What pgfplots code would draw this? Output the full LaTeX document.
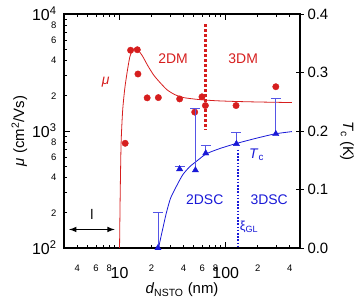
\documentclass[border=0pt]{standalone}
\usepackage{fontspec}
\setmainfont{Liberation Sans}
\usepackage{pgfplots}
\pgfplotsset{compat=1.18}
\definecolor{mred}{RGB}{214,30,30}
\definecolor{mblue}{RGB}{25,25,215}
\definecolor{ebblue}{RGB}{85,85,230}
\newcommand{\fs}[1]{\fontsize{#1}{#1}\selectfont}
\begin{document}
\begin{tikzpicture}
\useasboundingbox (-64bp,-55bp) rectangle (294bp,248bp);
\begin{axis}[
 at={(0,0)}, anchor=south west,
 scale only axis, width=236bp, height=234bp,
 xmode=log, ymode=log,
 xmin=3, xmax=500, ymin=100, ymax=10000,
 axis line style={line width=1.1pt},
 tick style={line width=0.9pt, black},
 tick align=inside,
 major tick length=6bp, minor tick length=3.5bp,
 xtick pos=both, ytick pos=left,
 xtick={10,100}, xticklabels={10,100},
 xticklabel style={font=\fs{16}, inner sep=0.5bp, yshift=-18.3bp},
 ytick={100,1000,10000},
 yticklabels={10\textsuperscript{2},10\textsuperscript{3},10\textsuperscript{4}},
 yticklabel style={font=\fs{16}, xshift=-4bp},
 extra x ticks={3,4,5,6,7,8,9,20,30,40,50,60,70,80,90,200,300,400},
 extra x tick labels={,4,,6,,8,,2,,4,,6,,8,,2,,4},
 extra x tick style={major tick length=3.5bp, xticklabel style={font=\fs{9.5}, inner sep=0.5bp, yshift=2.3bp}},
 extra y ticks={200,300,400,500,600,700,800,900,2000,3000,4000,5000,6000,7000,8000,9000},
 extra y tick labels={2,,4,,6,,8,,2,,4,,6,,8,},
 extra y tick style={major tick length=3.5bp, yticklabel style={font=\fs{9.5}, xshift=0bp}},
 xlabel={\textit{d}\textsubscript{NSTO} (nm)},
 xlabel style={font=\fs{15}, inner sep=1bp, yshift=-3bp},
 ylabel={\textit{μ} (cm\textsuperscript{2}/Vs)},
 ylabel style={font=\fs{15}, yshift=-2bp},
 clip=false,
]
% mobility fit curve
\addplot[mred, line width=0.8pt, smooth, tension=0.4] coordinates {
 (10.0,100) (10.15,300) (10.35,800) (10.7,1500) (11.2,2300) (11.8,3200)
 (12.5,4300) (13.3,4950) (14.0,5100) (15.0,4900) (16.5,4350) (18.5,3600)
 (21,3000) (24,2600) (28,2250) (33,2050) (40,1930) (55,1860) (80,1815)
 (120,1790) (200,1770) (420,1750)};
% mobility data
\addplot[only marks, mark=*, mark size=3.2bp, mred] coordinates {
 (11.3,785) (12.7,4900) (14.7,4950) (14.9,3070) (18.2,1920) (23.2,1930)
 (36.8,1880) (51,1450) (59.7,1960) (64.3,1650) (125,1650) (296,2390)};
% 2D/3D boundary (mobility)
\addplot[color=mred, line width=2.2bp, line cap=butt, dash pattern=on 2.6bp off 2.4bp, no marks] coordinates {(64.5,8200) (64.5,1020)};
% length arrow
\draw[<->, >=latex, line width=1.5pt] (axis cs:3.35,144) -- (axis cs:9.0,144);
\node[font=\fs{14}] at (axis cs:5.5,193) {l};
\node[font=\fs{14}, text=mred] at (axis cs:7.4,2620) {\textit{μ}};
\node[font=\fs{14}, text=mred] at (axis cs:31.9,4180) {2DM};
\node[font=\fs{14}, text=mred] at (axis cs:146,4180) {3DM};
\end{axis}
\begin{axis}[
 at={(0,0)}, anchor=south west,
 scale only axis, width=236bp, height=234bp,
 xmode=log, xmin=3, xmax=500, ymin=0, ymax=0.4,
 axis x line=none, axis y line*=right,
 axis line style={line width=1.1pt, -},
 tick style={line width=0.9pt, black},
 tick align=center, major tick length=8bp,
 ytick={0,0.1,0.2,0.3,0.4},
 yticklabel style={font=\fs{15}, /pgf/number format/.cd, fixed, fixed zerofill, precision=1, assume math mode=true},
 clip=false,
]
\addplot[mblue, line width=0.8pt, smooth, tension=0.4] coordinates {
 (23.3,0) (24.4,0.017) (25.6,0.034) (27.5,0.059) (30.2,0.085) (34.2,0.105)
 (39.3,0.125) (45.8,0.139) (54.5,0.150) (65.6,0.161) (87.9,0.170) (122,0.178)
 (188,0.187) (289,0.195) (420,0.199)};
\addplot[color=mblue, line width=1.3bp, dash pattern=on 1.6bp off 1.6bp, no marks] coordinates {(130,0.168) (130,0)};
\addplot[only marks, mark=triangle*, mark size=3.6bp, mblue,
 error bars/.cd, y dir=plus, y explicit,
 error mark=-,
 error bar style={ebblue, line width=0.9pt},
 error mark options={ebblue, mark size=5bp, line width=0.9pt, rotate=90}]
 table[x=d, y=t, y error=e] {
 d t e
 23.0 0.0 0.061
 36.8 0.135 0.004
 51.8 0.133 0.105
 64.8 0.162 0.014
 126 0.178 0.019
 296 0.195 0.060
};
\node[font=\fs{15}, rotate=-90] at ([xshift=47bp]rel axis cs:1,0.457) {\textit{T}\textsubscript{c} (K)};
\node[font=\fs{14}, text=mblue] at (axis cs:195,0.159) {\textit{T}\textsubscript{c}};
\node[font=\fs{14}, text=mblue] at (axis cs:63.4,0.082) {2DSC};
\node[font=\fs{14}, text=mblue] at (axis cs:256,0.082) {3DSC};
\node[font=\fs{13}, text=mblue, anchor=west, inner sep=0pt] at (axis cs:135,0.036) {ξ\textsubscript{GL}};
\end{axis}
\end{tikzpicture}
\end{document}
